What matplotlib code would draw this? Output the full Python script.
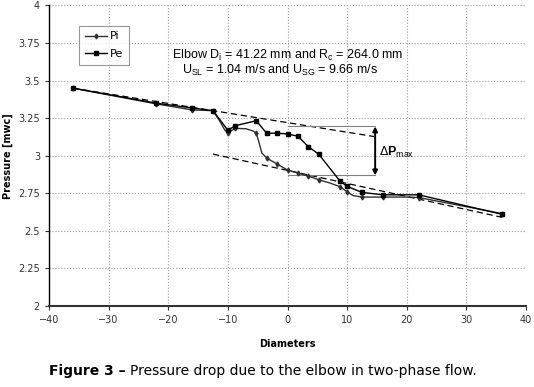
import numpy as np
import matplotlib
matplotlib.use("Agg")
import matplotlib.pyplot as plt

plt.rcParams['mathtext.fontset'] = 'custom'
plt.rcParams['mathtext.rm'] = 'Liberation Sans'
plt.rcParams['mathtext.bf'] = 'Liberation Sans:bold'
plt.rcParams['mathtext.it'] = 'Liberation Sans:italic'

# stations along the pipe (diameters from elbow)
x_pos = [-36, -22, -16, -12.5, -10, -8.75, -5.25, -3.5, -1.75, 0, 1.75, 3.5,
         5.25, 8.75, 10, 12.5, 16, 22, 36]
p_e = [3.45, 3.35, 3.318, 3.30, 3.17, 3.20, 3.233, 3.15, 3.15, 3.145, 3.13,
       3.06, 3.01, 2.834, 2.796, 2.756, 2.74, 2.74, 2.61]

# Pi curve (smoothed line in the original)
pi_x = [-36, -22, -16, -12.5, -11.5, -10.5, -10, -9.3, -8.75, -7, -5.8, -5.25,
        -4.9, -4.3, -3.5, -1.75, 0, 1.75, 3.5, 5.25, 7, 8.75, 10, 11, 12.5,
        16, 20, 22, 36]
pi_y = [3.45, 3.345, 3.305, 3.30, 3.24, 3.17, 3.152, 3.17, 3.182, 3.18, 3.165,
        3.15, 3.106, 3.018, 2.985, 2.945, 2.905, 2.885, 2.865, 2.84, 2.82,
        2.795, 2.76, 2.735, 2.725, 2.725, 2.725, 2.722, 2.615]
pi_marks = [0, 1, 2, 3, 6, 8, 11, 14, 15, 16, 17, 18, 19, 21, 22, 24, 25, 27, 28]

# dashed trend lines (upstream / downstream)
up_x = [-36, 14.5]
up_y = [3.45, 3.128]
down_x = [-12.5, 36]
down_y = [3.011, 2.59]

# delta P bracket
dp_x0, dp_x1 = 0, 14.7
dp_top, dp_bot = 3.195, 2.869

fig = plt.figure(figsize=(5.34, 3.87), dpi=100)
ax = fig.add_axes([0.0918, 0.2093, 0.8932, 0.7765])

ax.plot(pi_x, pi_y, color='#303030', lw=1.0, marker='d', ms=2.5,
        markevery=pi_marks, label='Pi', zorder=3)
ax.plot(x_pos, p_e, color='black', lw=1.0, marker='s', ms=3.5, label='Pe', zorder=4)
ax.plot(up_x, up_y, color='black', lw=0.9, ls=(0, (5, 3)), zorder=2)
ax.plot(down_x, down_y, color='black', lw=0.9, ls=(0, (5, 3)), zorder=2)

ax.plot([dp_x0, dp_x1], [dp_top, dp_top], color='#808080', lw=0.8)
ax.plot([dp_x0, dp_x1], [dp_bot, dp_bot], color='#808080', lw=0.8)
ax.annotate('', xy=(dp_x1, dp_bot), xytext=(dp_x1, dp_top),
            arrowprops=dict(arrowstyle='<|-|>', color='black', lw=1.4,
                            mutation_scale=7, shrinkA=0, shrinkB=0))
ax.text(15.4, 3.02, r'$\Delta\mathbf{P}_{\mathrm{max}}$', fontsize=9,
        va='center', ha='left')

ax.text(0, 3.665, r'Elbow D$_\mathrm{i}$ = 41.22 mm and R$_\mathrm{c}$ = 264.0 mm',
        ha='center', va='center', fontsize=9, family='Liberation Sans')
ax.text(-1.3, 3.565, r'U$_\mathrm{SL}$ = 1.04 m/s and U$_\mathrm{SG}$ = 9.66 m/s',
        ha='center', va='center', fontsize=9, family='Liberation Sans')

ax.set_xlim(-40, 40)
ax.set_ylim(2, 4)
ax.set_xticks(np.arange(-40, 41, 10))
ax.set_yticks(np.arange(2, 4.01, 0.25))
ax.set_yticklabels(['2', '2.25', '2.5', '2.75', '3', '3.25', '3.5', '3.75', '4'])
ax.tick_params(labelsize=7, length=3, direction='out', colors='#333333')
ax.grid(True, color='#a0a0a0', ls=':', lw=0.8)
ax.set_axisbelow(True)
for s in ['top', 'right']:
    ax.spines[s].set_visible(False)
ax.spines['left'].set_linewidth(1.0)
ax.spines['bottom'].set_linewidth(1.5)
ax.spines['bottom'].set_color('#333333')

ax.set_xlabel('Diameters', fontsize=7, fontweight='bold', labelpad=10)
ax.set_ylabel('Pressure [mwc]', fontsize=7, fontweight='bold', labelpad=4)

leg = ax.legend(loc='upper left', bbox_to_anchor=(0.063, 0.932), fontsize=8,
                frameon=True, fancybox=False, edgecolor='#808080',
                handlelength=2.0, borderpad=0.5, labelspacing=0.7,
                borderaxespad=0, handletextpad=0.3)
leg.get_frame().set_linewidth(0.8)

t1 = fig.text(0.092, 0.03, 'Figure 3 \u2013', fontsize=10, fontweight='bold', ha='left')
fig.canvas.draw()
bb = t1.get_window_extent().transformed(fig.transFigure.inverted())
fig.text(bb.x1 + 0.008, 0.03, 'Pressure drop due to the elbow in two-phase flow.',
         fontsize=10, ha='left')

fig.savefig('out.png', dpi=100)
